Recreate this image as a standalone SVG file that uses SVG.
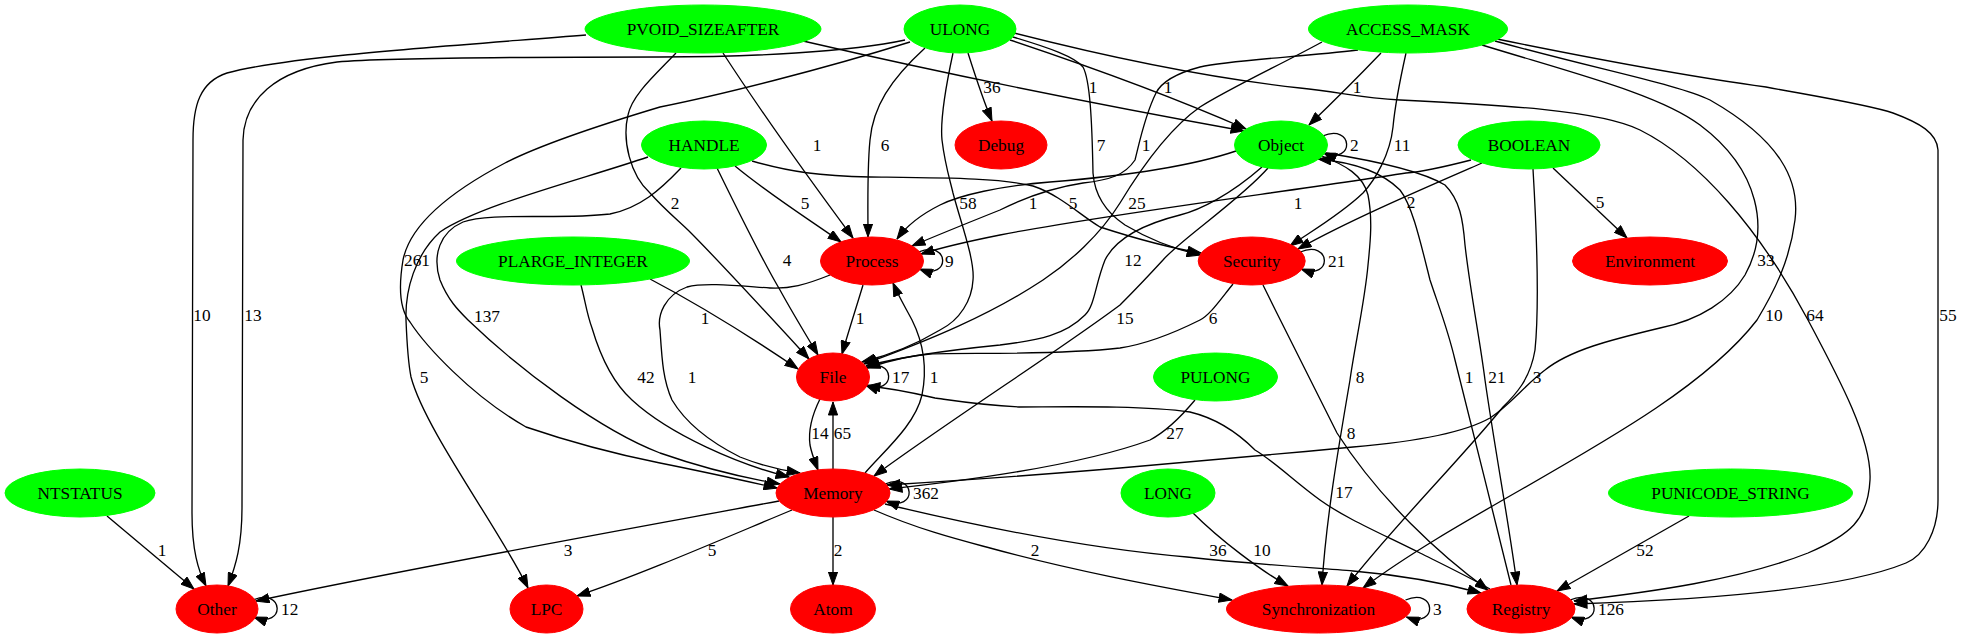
<svg xmlns="http://www.w3.org/2000/svg" width="1964" height="639" viewBox="0 0 1964 639">
<defs>
<marker id="arr" viewBox="0 0 14 10" refX="13.5" refY="5" markerWidth="14" markerHeight="10" markerUnits="userSpaceOnUse" orient="auto">
<path d="M0.5,0.4 L13.5,5 L0.5,9.6 Z" fill="#000" stroke="#000" stroke-width="1"/>
</marker>
<style>
.e{fill:none;stroke:#000;stroke-width:1.33;marker-end:url(#arr)}
text{font-family:"Liberation Serif",Times,serif;font-size:17.3px;fill:#000;text-anchor:middle}
.s{text-anchor:start}
.src{fill:#00ff00;stroke:#00ff00}
.dst{fill:#ff0000;stroke:#ff0000}
</style>
</defs>
<rect width="1964" height="639" fill="#fff"/>
<g id="edges">
<path class="e" d="M586,35 C450,46 290,56 227,73 C200,82 193,105 193,140 L192,513 C192,550 198,570 206,586"/><text x="202" y="321">10</text>
<path class="e" d="M905,40 C850,52 750,57 660,57 C500,57 380,58 337,62 C275,70 244,100 243,140 L242,507 C242,545 236,565 228,586"/><text x="253" y="321">13</text>
<path class="e" d="M910,42 C820,70 720,95 660,107 C600,125 540,145 505,163 C450,192 410,225 403,260 C398,290 400,310 410,322 C425,345 470,395 526,427 C570,442 620,455 660,463 C710,473 750,482 777,488"/><text x="417" y="266">261</text>
<path class="e" d="M648,157 C580,180 480,205 440,232 C415,255 405,290 406,320 C407,345 408,362 411,377 C425,430 500,530 528,588"/><text x="424" y="383">5</text>
<path class="e" d="M681,168 C660,190 640,208 610,214 C560,220 490,212 463,222 C440,232 432,255 440,280 C448,300 458,310 468,320 C520,370 600,430 660,453 C700,467 745,478 780,484"/><text x="487" y="322">137</text>
<path class="e" d="M581,285 C585,300 587,315 592,328 C600,355 612,382 632,400 C670,435 740,465 789,477"/><text x="646" y="383">42</text>
<path class="e" d="M676,53 C655,75 632,95 628,115 C622,140 630,175 650,193 C665,210 680,222 690,232 C720,262 775,322 809,359"/><text x="675" y="209">2</text>
<path class="e" d="M717,168 C740,215 765,265 780,290 C792,312 806,335 818,355"/><text x="787" y="266">4</text>
<path class="e" d="M650,279 C690,300 745,333 798,369"/><text x="705" y="324">1</text>
<path class="e" d="M723,53 C760,110 810,180 853,238"/><text x="817" y="151">1</text>
<path class="e" d="M925,48 C890,80 873,107 870,140 C867,170 868,210 868,237"/><text x="885" y="151">6</text>
<path class="e" d="M968,53 C975,75 983,100 992,121"/><text x="992" y="93">36</text>
<path class="e" d="M953,53 C945,90 940,120 942,140 C945,165 950,180 953,193 C960,220 975,260 973,280 C972,300 960,320 940,330 C915,345 890,355 862,362"/><text x="968" y="209">58</text>
<path class="e" d="M735,166 C770,195 810,220 841,242"/><text x="805" y="209">5</text>
<path class="e" d="M752,161 C790,172 820,176 870,177 C950,178 1000,178 1033,186 C1060,195 1080,215 1100,227 C1140,240 1170,248 1201,253"/><text x="1073" y="209">5</text>
<path class="e" d="M803,41 C950,75 1100,105 1244,131"/><text x="1093" y="93">1</text>
<path class="e" d="M1010,40 C1100,70 1180,100 1246,129"/><text x="1168" y="93">1</text>
<path class="e" d="M1013,37 C1050,48 1075,57 1083,67 C1090,80 1092,120 1093,173 C1095,200 1110,215 1125,225 C1150,240 1178,250 1200,255"/><text x="1101" y="151">7</text>
<path class="e" d="M1014,33 C1100,55 1200,77 1300,88 C1340,92 1360,98 1400,100 C1500,105 1600,110 1640,130 C1700,160 1760,230 1808,320 C1840,380 1872,440 1870,480 C1868,520 1850,535 1808,553 C1740,580 1650,592 1574,601"/><text x="1815" y="321">64</text>
<path class="e" d="M1381,53 C1360,75 1335,100 1309,125"/><text x="1357" y="93">1</text>
<path class="e" d="M1358,50 C1300,57 1230,60 1200,67 C1170,75 1160,85 1156,93 C1145,115 1140,140 1135,160 C1125,175 1110,180 1083,183 C1050,188 1020,200 1000,210 C970,222 940,234 912,246"/><text x="1146" y="151">1</text>
<path class="e" d="M1236,151 C1180,170 1100,178 1050,182 C1000,186 960,195 940,205 C920,215 905,228 897,239"/><text x="1033" y="209">1</text>
<path class="e" d="M1471,160 C1440,168 1420,172 1406,173 C1300,190 1100,215 1000,235 C960,243 940,248 921,254"/><text x="1298" y="209">1</text>
<path class="e" d="M1322,42 C1280,65 1230,88 1200,107 C1170,128 1140,170 1120,203 C1100,235 1070,262 1043,280 C990,315 930,340 864,364"/><text x="1137" y="209">25</text>
<path class="e" d="M1262,167 C1230,195 1200,210 1180,215 C1140,225 1115,240 1105,260 C1095,285 1095,305 1085,315 C1065,335 1040,340 1000,345 C950,350 900,357 866,366"/><text x="1133" y="266">12</text>
<path class="e" d="M1268,168 C1240,200 1180,240 1163,260 C1140,285 1130,295 1120,305 C1060,350 950,420 874,476"/><text x="1125" y="324">15</text>
<path class="e" d="M1322,156 C1345,165 1363,175 1368,195 C1373,220 1370,245 1368,265 C1365,300 1354,350 1350,380 C1338,450 1326,520 1322,585"/><text x="1360" y="383">8</text>
<path class="e" d="M1511,585 C1495,520 1470,420 1455,360 C1448,330 1440,310 1430,280 C1420,240 1412,205 1400,190 C1380,170 1350,162 1318,159"/><text x="1469" y="383">1</text>
<path class="e" d="M1326,153 C1370,160 1420,170 1445,185 C1460,200 1463,220 1465,245 C1470,290 1480,340 1485,380 C1495,450 1510,530 1517,585"/><text x="1497" y="383">21</text>
<path class="e" d="M1406,53 C1400,80 1395,105 1393,127 C1390,155 1375,180 1363,193 C1340,215 1310,232 1290,246"/><text x="1402" y="151">11</text>
<path class="e" d="M1482,163 C1420,190 1350,220 1298,249"/><text x="1411" y="208">2</text>
<path class="e" d="M1553,168 L1627,238"/><text x="1600" y="208">5</text>
<path class="e" d="M1533,169 C1536,220 1540,300 1535,350 C1530,380 1515,395 1503,407 C1460,460 1390,530 1347,586"/><text x="1537" y="383">3</text>
<path class="e" d="M1482,45 C1580,75 1660,95 1700,125 C1760,170 1770,230 1745,275 C1730,300 1700,320 1660,328 C1610,340 1570,350 1545,370 C1525,385 1510,405 1490,418 C1460,435 1400,443 1353,447 C1270,455 1180,463 1120,468 C1050,474 950,481 887,485"/><text x="1766" y="266">33</text>
<path class="e" d="M1495,41 C1600,70 1680,85 1710,100 C1780,140 1800,180 1795,220 C1790,260 1775,290 1757,320 C1680,420 1480,500 1363,588"/><text x="1774" y="321">10</text>
<path class="e" d="M1497,39 C1600,60 1700,78 1766,87 C1820,97 1870,105 1893,113 C1920,123 1937,133 1938,150 L1938,500 C1938,530 1925,555 1906,563 C1840,590 1700,600 1574,604"/><text x="1948" y="321">55</text>
<path class="e" d="M1689,516 L1557,591"/><text x="1645" y="556">52</text>
<path class="e" d="M863,285 C857,305 849,330 842,354"/><text x="860" y="324">1</text>
<path class="e" d="M830,275 C805,285 790,289 770,288 C740,286 705,282 687,287 C665,295 657,315 660,330 C662,360 663,380 672,400 C690,430 720,447 740,457 C760,465 780,470 800,473"/><text x="692" y="383">1</text>
<path class="e" d="M865,473 C885,450 915,425 922,395 C928,365 922,340 912,320 C904,305 898,295 893,283"/><text x="934" y="383">1</text>
<path class="e" d="M820,399 C812,415 808,430 810,445 C812,455 815,462 818,470"/><text x="820" y="439">14</text>
<path class="e" d="M833,469 L833,402"/><text x="842.5" y="439">65</text>
<path class="e" d="M1233,284 C1220,300 1210,315 1200,320 C1170,335 1140,345 1120,348 C1050,356 960,352 930,354 C905,356 885,362 867,368"/><text x="1213" y="324">6</text>
<path class="e" d="M1263,285 C1290,340 1320,400 1337,433 C1380,500 1440,555 1488,590"/><text x="1351" y="439">8</text>
<path class="e" d="M1490,589 C1465,575 1440,563 1420,553 C1380,533 1345,518 1320,500 C1295,482 1275,462 1255,450 C1235,430 1215,418 1190,412 C1140,405 1060,407 1019,407 C980,405 950,400 935,398 C910,392 890,388 867,386"/><text x="1344" y="498">17</text>
<path class="e" d="M1195,400 C1180,418 1165,432 1150,440 C1090,462 1000,477 889,489"/><text x="1175" y="439">27</text>
<path class="e" d="M1193,513 C1220,540 1260,570 1288,586"/><text x="1262" y="556">10</text>
<path class="e" d="M874,510 C920,530 960,540 990,548 C1070,570 1150,585 1232,600"/><text x="1035" y="556">2</text>
<path class="e" d="M885,504 C960,522 1080,548 1187,557 C1260,565 1320,568 1353,571 C1400,575 1440,582 1481,593"/><text x="1218" y="556">36</text>
<path class="e" d="M779,501 C650,525 400,570 256,601"/><text x="568" y="556">3</text>
<path class="e" d="M792,510 C720,540 640,575 577,596"/><text x="712" y="556">5</text>
<path class="e" d="M833,517 L833,585"/><text x="838" y="556">2</text>
<path class="e" d="M107,516 L194,589"/><text x="162" y="556">1</text>
<path class="e" d="M918.5,252 C949.5,239 951.5,281 919.5,269"/><text class="s" x="945" y="267">9</text>
<path class="e" d="M864.5,368 C895.5,355 897.5,397 865.5,385"/><text class="s" x="892" y="383">17</text>
<path class="e" d="M885,484 C916,471 918,513 886,501"/><text class="s" x="913" y="499">362</text>
<path class="e" d="M1300.2,252 C1331.2,239 1333.2,281 1301.2,269"/><text class="s" x="1328" y="267">21</text>
<path class="e" d="M1322.5,136 C1353.5,123 1355.5,165 1323.5,153"/><text class="s" x="1350" y="151">2</text>
<path class="e" d="M253,600 C284,587 286,629 254,617"/><text class="s" x="281" y="615">12</text>
<path class="e" d="M1405.5,600 C1436.5,587 1438.5,629 1406.5,617"/><text class="s" x="1433" y="615">3</text>
<path class="e" d="M1570,600 C1601,587 1603,629 1571,617"/><text class="s" x="1598" y="615">126</text>
</g>
<g id="n_PVOID_SIZEAFTER"><ellipse class="src" cx="703" cy="29" rx="118" ry="24"/><text x="703" y="35">PVOID_SIZEAFTER</text></g>
<g id="n_ULONG"><ellipse class="src" cx="960" cy="29" rx="56" ry="24"/><text x="960" y="35">ULONG</text></g>
<g id="n_ACCESS_MASK"><ellipse class="src" cx="1408" cy="29" rx="99.5" ry="24"/><text x="1408" y="35">ACCESS_MASK</text></g>
<g id="n_HANDLE"><ellipse class="src" cx="704" cy="145" rx="62.5" ry="24"/><text x="704" y="151">HANDLE</text></g>
<g id="n_Debug"><ellipse class="dst" cx="1001" cy="145" rx="46" ry="24"/><text x="1001" y="151">Debug</text></g>
<g id="n_Object"><ellipse class="src" cx="1281" cy="145" rx="46.5" ry="24"/><text x="1281" y="151">Object</text></g>
<g id="n_BOOLEAN"><ellipse class="src" cx="1529" cy="145" rx="71" ry="24"/><text x="1529" y="151">BOOLEAN</text></g>
<g id="n_PLARGE_INTEGER"><ellipse class="src" cx="573" cy="261" rx="116.5" ry="24"/><text x="573" y="267">PLARGE_INTEGER</text></g>
<g id="n_Process"><ellipse class="dst" cx="872" cy="261" rx="51.5" ry="24"/><text x="872" y="267">Process</text></g>
<g id="n_Security"><ellipse class="dst" cx="1251.7" cy="261" rx="53.5" ry="24"/><text x="1251.7" y="267">Security</text></g>
<g id="n_Environment"><ellipse class="dst" cx="1650" cy="261" rx="77.5" ry="24"/><text x="1650" y="267">Environment</text></g>
<g id="n_File"><ellipse class="dst" cx="833" cy="377" rx="36.5" ry="24"/><text x="833" y="383">File</text></g>
<g id="n_PULONG"><ellipse class="src" cx="1215.5" cy="377" rx="62" ry="24"/><text x="1215.5" y="383">PULONG</text></g>
<g id="n_NTSTATUS"><ellipse class="src" cx="80" cy="493" rx="75" ry="24"/><text x="80" y="499">NTSTATUS</text></g>
<g id="n_Memory"><ellipse class="dst" cx="833" cy="493" rx="57" ry="24"/><text x="833" y="499">Memory</text></g>
<g id="n_LONG"><ellipse class="src" cx="1168" cy="493" rx="47" ry="24"/><text x="1168" y="499">LONG</text></g>
<g id="n_PUNICODE_STRING"><ellipse class="src" cx="1730.5" cy="493" rx="122" ry="24"/><text x="1730.5" y="499">PUNICODE_STRING</text></g>
<g id="n_Other"><ellipse class="dst" cx="217" cy="609" rx="41" ry="24"/><text x="217" y="615">Other</text></g>
<g id="n_LPC"><ellipse class="dst" cx="546.5" cy="609" rx="36.5" ry="24"/><text x="546.5" y="615">LPC</text></g>
<g id="n_Atom"><ellipse class="dst" cx="833" cy="609" rx="42.5" ry="24"/><text x="833" y="615">Atom</text></g>
<g id="n_Synchronization"><ellipse class="dst" cx="1318.5" cy="609" rx="92" ry="24"/><text x="1318.5" y="615">Synchronization</text></g>
<g id="n_Registry"><ellipse class="dst" cx="1521" cy="609" rx="54" ry="24"/><text x="1521" y="615">Registry</text></g>
</svg>
